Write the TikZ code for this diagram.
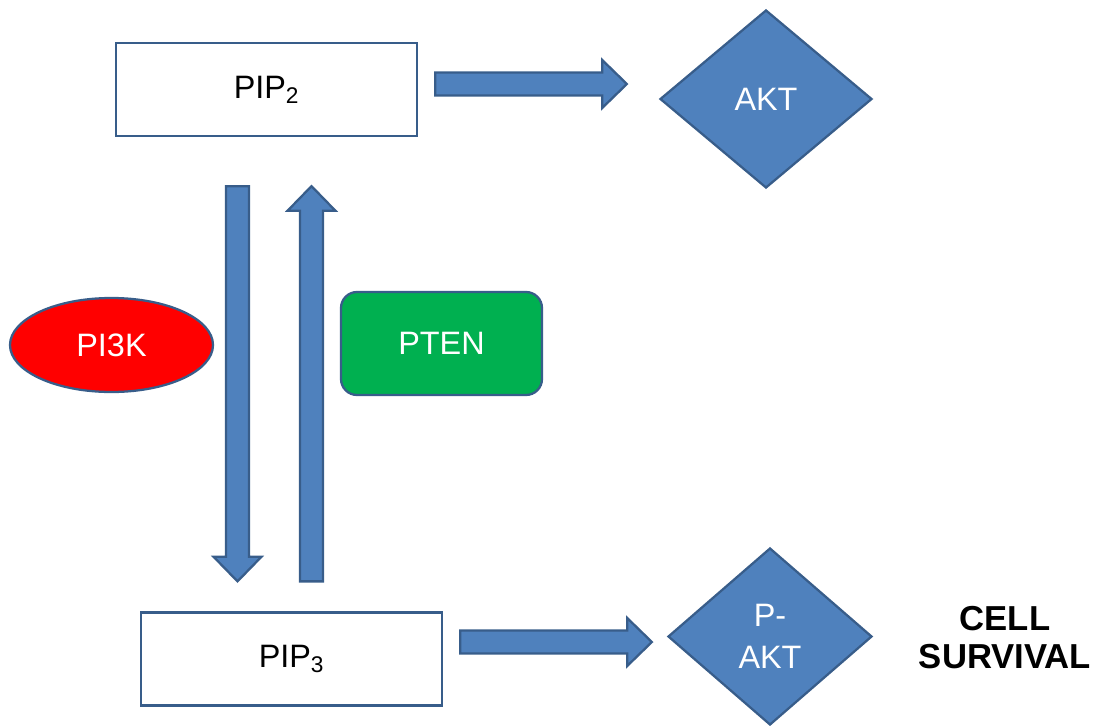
\documentclass[tikz,border=0pt]{standalone}
\usepackage{fontspec}
\setmainfont{Liberation Sans}
\usetikzlibrary{calc,positioning,shapes.geometric}
\definecolor{aktblue}{HTML}{4F81BD}
\definecolor{aktline}{HTML}{385D8A}
\definecolor{ptengreen}{HTML}{00B050}
\tikzset{every picture/.style={
  x=0.75pt, y=-0.75pt,          % Pixel grid, y going down.
  line width=1.7pt
  },
  lipid/.style={draw=aktline, fill=white, minimum width=225.75pt,
    minimum height=69.75pt, font=\fontsize{24.3}{28}\selectfont},
  kinase/.style={diamond, draw=aktline, fill=aktblue, text=white,
    inner sep=0pt, align=center, font=\fontsize{24.3}{31.5}\selectfont},
  enzyme/.style={draw=aktline, text=white, font=\fontsize{24.3}{28}\selectfont},
  flux/.style={draw=aktline, fill=aktblue}
}
% Block arrow from #1 to #2.
\newcommand{\blockflux}[2]{%
  \draw[flux] let \p1=($(#2)-(#1)$), \n1={atan2(\y1,\x1)}, \n2={veclen(\x1,\y1)} in
    [shift={(#1)}, rotate=\n1]
    (0pt,-8.6pt) -- ({(\n2-18.5)*1pt},-8.6pt) -- ({(\n2-18.5)*1pt},-18pt)
    -- ({\n2*1pt},0pt) -- ({(\n2-18.5)*1pt},18pt) -- ({(\n2-18.5)*1pt},8.6pt)
    -- (0pt,8.6pt) -- cycle;}

\begin{document}
\begin{tikzpicture}
  \useasboundingbox (0,0) rectangle (1099,725);

  \node[lipid] (pip2) at (266.5,89.5) {PIP\textsubscript{2}};
  \node[lipid] (pip3) at (291.5,659) {PIP\textsubscript{3}};
  \node[kinase, minimum width=159pt, minimum height=133.5pt] (akt) at (766,99) {AKT};
  \node[kinase, minimum width=153pt, minimum height=132.75pt] (pakt) at (770,636.5) {P-\\AKT};
  \node[enzyme, ellipse, fill=red, inner sep=0pt,
    minimum width=152.25pt, minimum height=70.5pt] (pi3k) at (111.5,345) {PI3K};
  \node[enzyme, fill=ptengreen, rounded corners=12pt,
    minimum width=150.75pt, minimum height=77.25pt] (pten) at (441.5,343.5) {PTEN};
  \node[align=center, font=\fontsize{26}{28.5}\selectfont\bfseries] (survival)
    at (1005,638) {CELL\\SURVIVAL};

  \blockflux{$(pip2.east)+(17,-5.5)$}{$(akt.west)+(-32,-15)$}
  \blockflux{$(pip2.south)+(-29,49)$}{$(pip3.north)+(-54,-30)$}
  \blockflux{$(pip3.north)+(20,-30)$}{$(pip2.south)+(45,49)$}
  \blockflux{$(pip3.east)+(17,-17)$}{$(pakt.west)+(-15,5.5)$}
\end{tikzpicture}
\end{document}
